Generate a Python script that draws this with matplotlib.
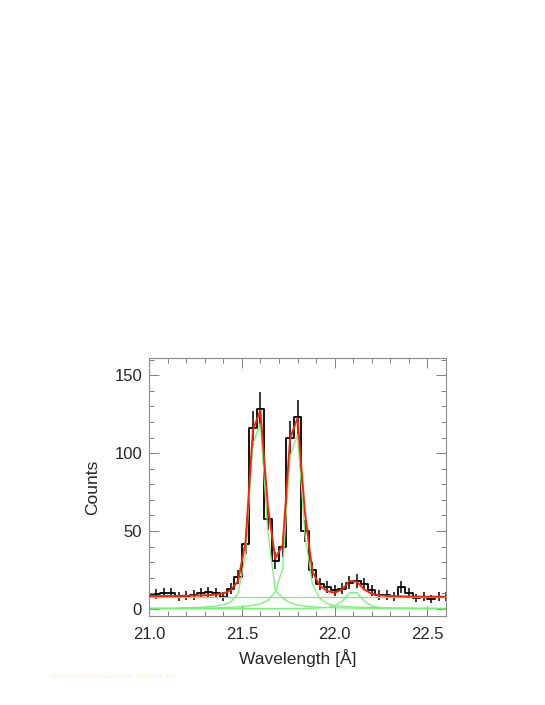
import numpy as np
import matplotlib
matplotlib.use("Agg")
import matplotlib.pyplot as plt
from matplotlib.ticker import MultipleLocator

plt.rcParams['font.family'] = ['Liberation Sans', 'DejaVu Sans']

# bin centres (Angstrom) and observed counts per bin
wave = [21.00, 21.04, 21.08, 21.12, 21.16, 21.20, 21.24, 21.28, 21.32, 21.36,
        21.40, 21.44, 21.48, 21.52, 21.56, 21.60, 21.64, 21.68, 21.72, 21.76,
        21.80, 21.84, 21.88, 21.92, 21.96, 22.00, 22.04, 22.08, 22.12, 22.16,
        22.20, 22.24, 22.28, 22.32, 22.36, 22.40, 22.44, 22.48, 22.52, 22.56,
        22.60]
counts = [9.5, 9.5, 10.5, 10, 8, 8.5, 9, 10, 11, 10,
          8, 13, 20.5, 42, 116, 128, 58, 31, 40, 110,
          123, 50, 25, 16, 14, 12, 13, 17, 18, 16,
          12, 9, 9, 8, 14, 10, 7, 8, 6.5, 8,
          8]

# fitted model (red) and its components (green)
model = [8.3, 8.3, 8.3, 8.4, 8.4, 8.5, 8.6, 8.7, 8.9, 9.3,
         10, 12, 18, 43, 115, 127.5, 66, 32.5, 41, 109.5,
         122.5, 62, 24, 15, 11.5, 10.5, 12.5, 18, 17.5, 12.5,
         9.8, 8.8, 8.4, 8.2, 8.1, 8.0, 8.0, 7.9, 7.9, 7.9,
         7.9]
line1 = [0.5, 0.5, 0.6, 0.6, 0.7, 0.8, 0.9, 1.1, 1.4, 1.9,
         2.7, 4.5, 10, 35, 106, 119, 50, 12, 7, 4,
         2.6, 1.9, 1.4, 1.1, 0.9, 0.8, 0.7, 0.6, 0.6, 0.5,
         0.5, 0.5, 0.4, 0.4, 0.4, 0.4, 0.4, 0.3, 0.3, 0.3,
         0.3]
line2 = [0.4, 0.4, 0.4, 0.4, 0.5, 0.5, 0.5, 0.6, 0.6, 0.7,
         0.9, 1.1, 1.4, 1.8, 2.5, 3.5, 5.5, 11, 26, 98,
         112, 48, 16, 7, 3.5, 2.2, 1.8, 1.4, 1.2, 1.0,
         0.9, 0.8, 0.7, 0.7, 0.6, 0.6, 0.5, 0.5, 0.5, 0.4,
         0.4]
line3 = [0.2, 0.2, 0.2, 0.2, 0.2, 0.2, 0.2, 0.2, 0.2, 0.2,
         0.2, 0.2, 0.2, 0.3, 0.3, 0.3, 0.3, 0.3, 0.4, 0.4,
         0.4, 0.5, 0.5, 0.7, 1.0, 2.0, 5, 10.5, 10.5, 5,
         2.0, 1.0, 0.7, 0.5, 0.4, 0.4, 0.3, 0.3, 0.3, 0.3,
         0.3]
bg_level = 7.5

xticks = [21.0, 21.5, 22.0, 22.5]
yticks = [0, 50, 100, 150]

errs = np.sqrt(counts)

fig = plt.figure(figsize=(5.45, 7.05), dpi=100)
ax = fig.add_axes([0.2734, 0.1262, 0.545, 0.366])

green = "#72f272"
ax.axhline(bg_level, color=green, lw=0.9, zorder=2)
for comp in (line1, line2, line3):
    ax.plot(wave, comp, color=green, lw=0.9, zorder=2)

ax.step(wave, counts, where="mid", color="black", lw=1.3, zorder=1)
ax.vlines(wave, np.array(counts) - errs, np.array(counts) + errs,
          color="black", lw=1.1, zorder=1)
ax.plot(wave, model, color="#ff2200", lw=1.4, zorder=3)

ax.set_xlim(21.0, 22.6)
ax.set_ylim(-4.5, 161)
ax.set_xticks(xticks)
ax.set_yticks(yticks)
ax.xaxis.set_minor_locator(MultipleLocator(0.1))
ax.yaxis.set_minor_locator(MultipleLocator(10))
ax.tick_params(which="both", direction="in", top=True, right=True,
               color="0.5", width=0.7, labelsize=12, labelcolor="0.15")
ax.tick_params(which="major", length=7)
ax.tick_params(axis="x", which="major", pad=8)
ax.tick_params(axis="y", which="major", pad=5)
ax.tick_params(which="minor", length=3.5)
for s in ax.spines.values():
    s.set_color("0.55")
    s.set_linewidth(0.8)

ax.set_xlabel("Wavelength [Å]", fontsize=12.5, color="0.15", labelpad=5)
ax.set_ylabel("Counts", fontsize=12.5, color="0.15", labelpad=10)

fig.text(0.092, 0.038, "2007 Nov 15 18: 3:33 testa@tichy  PINTofALE 2.00",
         fontsize=4, color="#ffe8cc")

fig.savefig("out.png", dpi=100)
